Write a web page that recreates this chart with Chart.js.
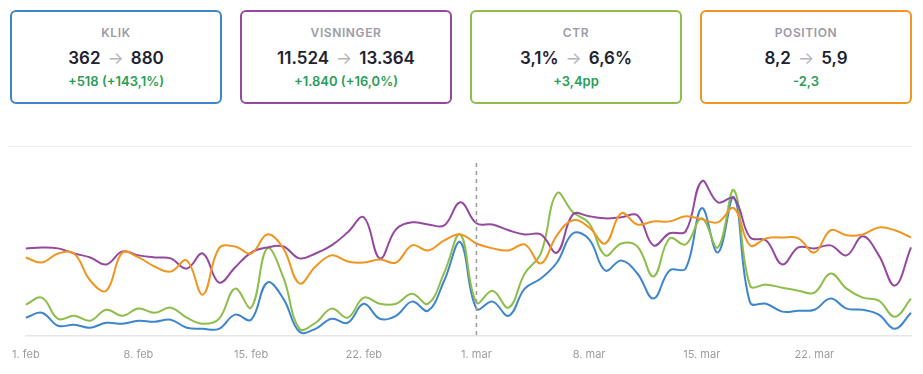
<!DOCTYPE html>
<html>
<head>
<meta charset="utf-8">
<script src="https://cdn.jsdelivr.net/npm/chart.js@4.4.1/dist/chart.umd.min.js"></script>
<style>
  body { margin: 0; background: #fff; font-family: Inter, "Noto Sans", sans-serif; width: 923px; height: 374px; overflow: hidden; position: relative; }
  .card { position: absolute; top: 10px; width: 212px; height: 94px; box-sizing: border-box; border: 2px solid; border-radius: 6px; text-align: center; }
  .card .title { position: absolute; left: 0; right: 0; top: 13px; font-size: 12px; font-weight: 600; letter-spacing: 0.6px; color: #9b9ba6; }
  .card .value { position: absolute; left: 0; right: 0; top: 36px; font-size: 17px; font-weight: 600; color: #1e2230; }
  .card .value .arrow { color: #b5b5bd; margin: 0 7px; font-weight: 400; }
  .card .delta { position: absolute; left: 0; right: 0; top: 61px; font-size: 13px; font-weight: 600; color: #2a9d57; }
  .topline { position: absolute; left: 8px; width: 904px; top: 146px; border-top: 1px solid #ececec; }
  #wrap { position: absolute; left: 0; top: 140px; width: 923px; height: 234px; }
</style>
</head>
<body>
<div id="cards"></div>
<div class="topline"></div>
<div id="wrap"><canvas id="trendChart"></canvas></div>
<script>
/* KPI cards */
var cardTitles = ["KLIK", "VISNINGER", "CTR", "POSITION"];
var cardFrom = ["362", "11.524", "3,1%", "8,2"];
var cardTo = ["880", "13.364", "6,6%", "5,9"];
var cardDelta = ["+518 (+143,1%)", "+1.840 (+16,0%)", "+3,4pp", "-2,3"];
var cardColors = ["#3d86cc", "#94499f", "#8dbd4a", "#f0951f"];
var cardLeft = [10, 240, 470, 700];

/* Daily labels, 1. feb - 28. mar */
var monthNames = ["feb", "mar"];
var monthDays = [28, 28];
var dayLabels = [];
for (var m = 0; m < monthNames.length; m++) {
  for (var d = 1; d <= monthDays[m]; d++) {
    dayLabels.push(d + ". " + monthNames[m]);
  }
}

/* Series, indexed 0-100 (relative chart height) */
var klikData = [9.6, 12.2, 5.3, 5.9, 4.3, 6.9, 6.4, 8.0, 7.4, 8.5, 4.3, 3.7, 3.7, 11.2, 8.5, 28.2, 19.7, 2.1, 3.7, 9.0,
  6.9, 17.0, 9.0, 10.6, 18.1, 13.3, 29.3, 49.5, 14.4, 18.1, 10.6, 25.0, 30.3, 38.8, 54.3, 51.1, 34.6, 39.9, 33.0, 19.7,
  34.6, 35.6, 67.6, 44.1, 73.4, 17.6, 17.0, 12.8, 13.3, 13.8, 19.7, 14.4, 13.8, 11.2, 3.7, 12.2];
var visningerData = [46.3, 46.8, 46.3, 43.6, 41.5, 37.8, 44.7, 42.6, 41.5, 41.0, 35.6, 43.6, 28.2, 36.2, 44.1, 46.8, 47.3, 41.0, 43.6, 47.9,
  54.8, 62.8, 41.0, 56.4, 60.1, 59.0, 58.5, 70.7, 59.6, 59.0, 55.9, 53.7, 53.7, 44.1, 64.4, 63.3, 62.2, 62.8, 63.8, 47.9,
  54.3, 55.3, 81.9, 70.7, 72.9, 52.1, 50.5, 37.8, 46.8, 46.3, 47.9, 42.6, 52.7, 42.6, 26.6, 46.8];
var ctrData = [16.5, 20.2, 9.0, 10.6, 8.0, 13.8, 10.6, 14.4, 12.2, 14.9, 9.6, 6.4, 9.0, 25.0, 14.9, 46.3, 30.9, 3.7, 6.9, 14.4,
  9.6, 20.2, 17.0, 17.0, 22.3, 17.0, 33.5, 53.7, 17.6, 23.9, 14.9, 33.0, 43.6, 75.5, 65.4, 59.6, 42.6, 48.9, 47.3, 31.4,
  51.6, 48.4, 62.2, 46.8, 77.1, 26.6, 27.1, 25.5, 23.9, 22.9, 33.0, 25.0, 20.2, 18.6, 10.1, 19.7];
var positionData = [41.5, 38.8, 43.6, 43.6, 29.3, 23.9, 44.1, 41.5, 36.7, 34.0, 39.9, 21.8, 46.3, 47.3, 43.6, 53.7, 46.3, 27.7, 36.7, 42.6,
  39.4, 38.8, 40.4, 38.8, 47.9, 45.2, 50.5, 53.7, 48.9, 46.3, 45.2, 48.4, 38.3, 53.2, 61.2, 57.4, 48.9, 64.9, 59.0, 60.6,
  60.6, 63.3, 61.7, 60.1, 67.6, 47.9, 51.6, 52.1, 51.6, 44.1, 55.9, 53.2, 53.7, 57.4, 55.9, 52.1];

var markerIndex = 28; // 1. mar

window.addEventListener("DOMContentLoaded", function () {
  var cardsEl = document.getElementById("cards");
  for (var i = 0; i < cardTitles.length; i++) {
    var card = document.createElement("div");
    card.className = "card";
    card.style.left = cardLeft[i] + "px";
    card.style.borderColor = cardColors[i];
    card.innerHTML = '<div class="title">' + cardTitles[i] + '</div>' +
      '<div class="value">' + cardFrom[i] + '<span class="arrow">\u2192</span>' + cardTo[i] + '</div>' +
      '<div class="delta">' + cardDelta[i] + '</div>';
    cardsEl.appendChild(card);
  }

  var markerLine = {
    id: "markerLine",
    afterDatasetsDraw: function (chart) {
      var ctx = chart.ctx;
      var x = chart.scales.x.getPixelForValue(markerIndex);
      ctx.save();
      ctx.strokeStyle = "#9a9a9a";
      ctx.lineWidth = 1.5;
      ctx.setLineDash([4, 4]);
      ctx.beginPath();
      ctx.moveTo(x, chart.chartArea.top + 16);
      ctx.lineTo(x, chart.chartArea.bottom);
      ctx.stroke();
      ctx.restore();
    }
  };

  function series(data, color) {
    return {
      data: data,
      borderColor: color,
      borderWidth: 2,
      fill: false,
      tension: 0.4,
      pointRadius: 0
    };
  }

  var ctx = document.getElementById("trendChart").getContext("2d");
  new Chart(ctx, {
    type: "line",
    data: {
      labels: dayLabels,
      datasets: [
        series(positionData, cardColors[3]),
        series(visningerData, cardColors[1]),
        series(ctrData, cardColors[2]),
        series(klikData, cardColors[0])
      ]
    },
    options: {
      responsive: true,
      maintainAspectRatio: false,
      animation: false,
      layout: { padding: { left: 25, right: 11, top: 7, bottom: 1 } },
      plugins: { legend: { display: false }, tooltip: { enabled: false } },
      scales: {
        x: {
          grid: { display: false, drawTicks: false },
          border: { display: true, color: "#e6e6e6", width: 1.5 },
          ticks: {
            autoSkip: false,
            maxRotation: 0,
            padding: 12,
            color: "#9c9c9c",
            font: { size: 11, family: "Inter" },
            callback: function (value, index) {
              return index % 7 === 0 ? dayLabels[index] : "";
            }
          }
        },
        y: {
          display: false,
          min: 0,
          max: 100
        }
      }
    },
    plugins: [markerLine]
  });
}, false);
</script>
</body>
</html>
